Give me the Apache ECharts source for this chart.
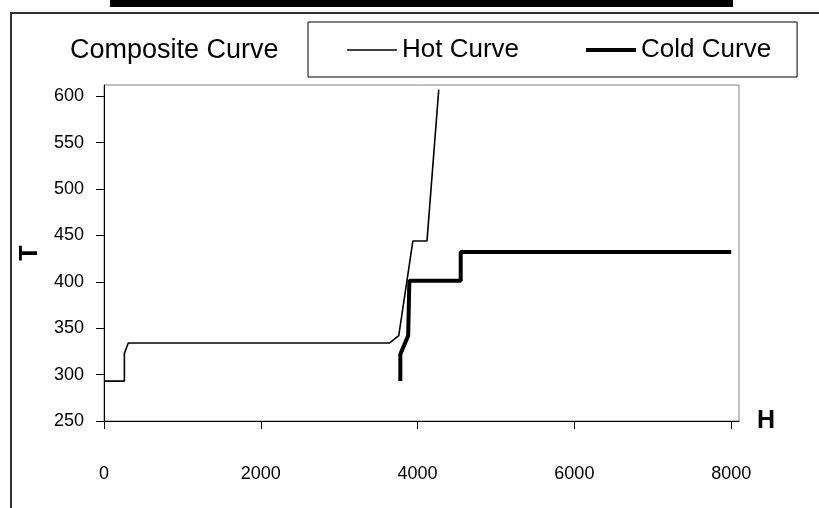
<!DOCTYPE html>
<html>
<head>
<meta charset="utf-8">
<script src="https://cdn.jsdelivr.net/npm/echarts@6/dist/echarts.min.js"></script>
<style>
  html, body { margin: 0; padding: 0; background: #fff; }
  #chart { width: 819px; height: 508px; }
</style>
</head>
<body>
<div id="chart"></div>
<script>
// composite curve data, [H, T]
var hotCurve = [[0, 293], [260, 293], [260, 323], [310, 334], [3640, 334], [3760, 342], [3940, 444], [4120, 444], [4270, 607]];
var coldCurve = [[3780, 293], [3780, 322], [3880, 342], [3895, 401], [4550, 401], [4550, 432], [8000, 432]];
var xTicks = [0, 2000, 4000, 6000, 8000];
var yTicks = [250, 300, 350, 400, 450, 500, 550, 600];

var tickFont = "'Liberation Sans', Arial, sans-serif";

var chart = echarts.init(document.getElementById('chart'));
var option = {
    animation: false,
    backgroundColor: '#fff',
    title: {
        text: 'Composite Curve',
        left: 70,
        top: 37,
        padding: 0,
        textStyle: { fontFamily: 'Liberation Sans', fontSize: 27, fontWeight: 'normal', color: '#000' }
    },
    legend: {
        left: 308,
        top: 22,
        padding: [15, 26, 14, 39],
        itemGap: 67,
        itemWidth: 50,
        itemHeight: 14,
        borderColor: '#000',
        borderWidth: 1,
        textStyle: { fontFamily: 'Liberation Sans', fontSize: 26, color: '#000' },
        data: [
            { name: 'Hot Curve', icon: 'path://M0,0H50V1.6H0Z' },
            { name: 'Cold Curve', icon: 'path://M0,0H50V4H0Z' }
        ]
    },
    grid: {
        left: 104,
        top: 85,
        width: 635,
        height: 336,
        show: true,
        borderColor: '#808080',
        borderWidth: 1
    },
    xAxis: {
        type: 'value',
        min: 0,
        max: 8100,
        name: 'H',
        nameLocation: 'end',
        nameGap: 18,
        nameTextStyle: { fontFamily: 'Liberation Sans', fontSize: 25, fontWeight: 'bold', color: '#000', padding: [0, 0, 24, 0] },
        axisLine: { lineStyle: { color: '#000', width: 1 } },
        axisTick: { show: true, length: 8, customValues: xTicks, lineStyle: { color: '#000' } },
        axisLabel: {
            margin: 44, customValues: xTicks, fontFamily: tickFont, fontSize: 18, color: '#000',
            formatter: function (v) { return String(v); }
        },
        splitLine: { show: false }
    },
    yAxis: {
        type: 'value',
        min: 250,
        max: 612,
        name: 'T',
        nameLocation: 'middle',
        nameRotate: 90,
        nameGap: 58,
        nameTextStyle: { fontFamily: 'Liberation Sans', fontSize: 25, fontWeight: 'bold', color: '#000' },
        axisLine: { show: true, lineStyle: { color: '#000', width: 1 } },
        axisTick: { show: true, length: 8, customValues: yTicks, lineStyle: { color: '#000' } },
        axisLabel: { margin: 20, customValues: yTicks, fontFamily: tickFont, fontSize: 18, color: '#000' },
        splitLine: { show: false }
    },
    series: [
        {
            name: 'Hot Curve',
            type: 'line',
            symbol: 'none',
            color: '#000',
            lineStyle: { color: '#000', width: 1.6 },
            data: hotCurve
        },
        {
            name: 'Cold Curve',
            type: 'line',
            symbol: 'none',
            color: '#000',
            lineStyle: { color: '#000', width: 4 },
            data: coldCurve
        }
    ],
    graphic: [
        // black bar along the top edge
        { type: 'rect', shape: { x: 110, y: 0, width: 623, height: 7 }, style: { fill: '#000' } },
        // outer chart frame
        { type: 'polyline', shape: { points: [[11, 508], [11, 13], [819, 13]] }, style: { stroke: '#333', lineWidth: 2, fill: null } }
    ]
};
chart.setOption(option);
</script>
</body>
</html>
